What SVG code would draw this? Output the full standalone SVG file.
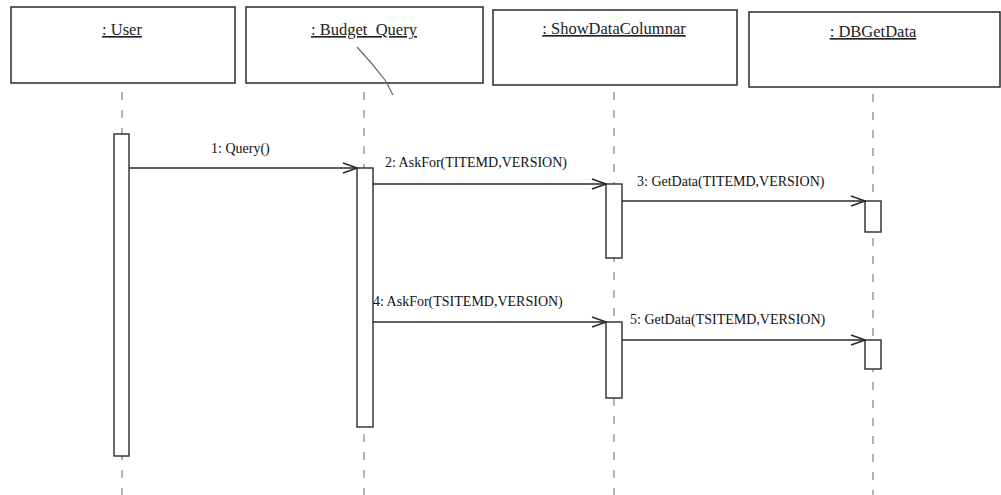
<svg xmlns="http://www.w3.org/2000/svg" width="1001" height="495" viewBox="0 0 1001 495">
<style>
.obj{fill:#fff;stroke:#2a2a2a;stroke-width:1.5}
.name{font-family:"Liberation Serif","DejaVu Serif",serif;font-size:16.5px;fill:#222;text-anchor:middle;text-decoration:underline}
.life{stroke:#8a8a8a;stroke-width:1.3;stroke-dasharray:8 10;fill:none}
.act{fill:#fff;stroke:#2a2a2a;stroke-width:1.4}
.msg{stroke:#2a2a2a;stroke-width:1.3;fill:none;marker-end:url(#open)}
.lbl{font-family:"Liberation Serif","DejaVu Serif",serif;font-size:14px;fill:#111}
</style>
<defs>
<marker id="open" markerWidth="16" markerHeight="12" refX="15" refY="6" orient="auto" markerUnits="userSpaceOnUse">
<path d="M1,1 L15,6 L1,11" fill="none" stroke="#2a2a2a" stroke-width="1.5"/>
</marker>
</defs>
<rect width="1001" height="495" fill="#fff"/>
<g id="lifelines">
<line class="life" x1="122" y1="92" x2="122" y2="495"/>
<line class="life" x1="364" y1="92" x2="364" y2="495"/>
<line class="life" x1="614" y1="92" x2="614" y2="495"/>
<line class="life" x1="873" y1="94" x2="873" y2="495"/>
</g>
<g id="user">
<rect class="obj" x="11" y="7" width="224" height="76"/>
<text class="name" x="122" y="35">: User</text>
<rect class="act" x="114" y="134" width="15" height="322"/>
</g>
<g id="budget_query">
<rect class="obj" x="246" y="7" width="237" height="76"/>
<text class="name" x="364" y="35">: Budget_Query</text>
<path d="M357,47 Q372,63 385,80 L393,95" fill="none" stroke="#666" stroke-width="1.2"/>
<rect class="act" x="357" y="168" width="16" height="259"/>
</g>
<g id="showdatacolumnar">
<rect class="obj" x="493" y="10" width="244" height="75"/>
<text class="name" x="614" y="34">: ShowDataColumnar</text>
<rect class="act" x="606" y="184" width="16" height="74"/>
<rect class="act" x="606" y="322" width="16" height="76"/>
</g>
<g id="dbgetdata">
<rect class="obj" x="749" y="12" width="251" height="75"/>
<text class="name" x="873" y="37">: DBGetData</text>
<rect class="act" x="865" y="201" width="16" height="31"/>
<rect class="act" x="865" y="340" width="16" height="29"/>
</g>
<g id="connectors">
<line class="msg" x1="129" y1="168" x2="357" y2="168"/>
<text class="lbl" x="211" y="153">1: Query()</text>
<line class="msg" x1="373" y1="184" x2="606" y2="184"/>
<text class="lbl" x="385" y="167">2: AskFor(TITEMD,VERSION)</text>
<line class="msg" x1="622" y1="201" x2="865" y2="201"/>
<text class="lbl" x="637" y="186">3: GetData(TITEMD,VERSION)</text>
<line class="msg" x1="373" y1="322" x2="606" y2="322"/>
<text class="lbl" x="373" y="306">4: AskFor(TSITEMD,VERSION)</text>
<line class="msg" x1="622" y1="340" x2="865" y2="340"/>
<text class="lbl" x="630" y="324">5: GetData(TSITEMD,VERSION)</text>
</g>
</svg>
